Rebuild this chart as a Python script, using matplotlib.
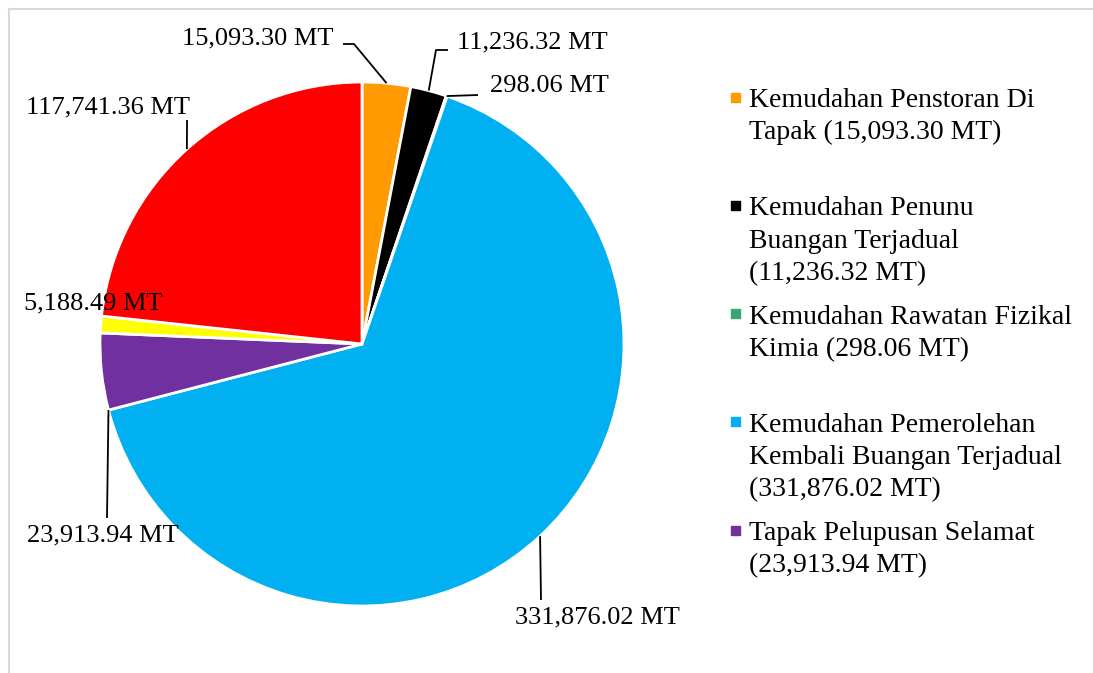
import matplotlib
matplotlib.use("Agg")  # no display

import numpy as np
import matplotlib.pyplot as plt
from matplotlib.lines import Line2D
from matplotlib.patches import Rectangle

# -----------------------------
# Data (tonnes, MT)
# -----------------------------
categories = [
    "Kemudahan Penstoran Di Tapak",
    "Kemudahan Penunu Buangan Terjadual",
    "Kemudahan Rawatan Fizikal Kimia",
    "Kemudahan Pemerolehan Kembali Buangan Terjadual",
    "Tapak Pelupusan Selamat",
    "Lain-lain",
    "Eksport",
]
values = [15093.30, 11236.32, 298.06, 331876.02, 23913.94, 5188.49, 117741.36]
colors = ["#FF9A00", "#000000", "#3AA86E", "#00B0F0", "#7030A0", "#FFFF00", "#FF0000"]

legend_labels = [
    "Kemudahan Penstoran Di\nTapak (15,093.30 MT)",
    "Kemudahan Penunu\nBuangan Terjadual\n(11,236.32 MT)",
    "Kemudahan Rawatan Fizikal\nKimia (298.06 MT)",
    "Kemudahan Pemerolehan\nKembali Buangan Terjadual\n(331,876.02 MT)",
    "Tapak Pelupusan Selamat\n(23,913.94 MT)",
]

FONT = "Liberation Serif"
W, H = 1093, 673

fig = plt.figure(figsize=(W / 100, H / 100), dpi=100)

# pie box: centre (362, 344) px, radius 262 px
CX, CY, R = 362, 344, 262
ax = fig.add_axes([(CX - R) / W, (H - CY - R) / H, 2 * R / W, 2 * R / H])
ax.axis("off")

wedges, _ = ax.pie(values, colors=colors, startangle=90, counterclock=False,
                   radius=1.0, wedgeprops=dict(edgecolor="white", linewidth=2.0))
ax.set_xlim(-1, 1)
ax.set_ylim(-1, 1)


def px(x, y):
    """pixel position -> axes data coords"""
    return (x - CX) / R, (CY - y) / R


def on_edge(theta):
    t = np.deg2rad(theta)
    return np.cos(t), np.sin(t)


def mid(w):
    return (w.theta1 + w.theta2) / 2


# -----------------------------
# Data labels with leader lines
# -----------------------------
# (text x, text y, ha, anchor angle, elbow points)
label_setup = [
    (258, 38, "center", mid(wedges[0]), [(354, 44), (343, 44)]),
    (457, 42, "left", mid(wedges[1]), [(436, 50), (448, 50)]),
    (490, 86, "left", mid(wedges[2]), [(478, 95)]),
    (597, 617, "center", mid(wedges[3]), [(541, 600)]),
    (103, 535, "center", wedges[4].theta2, [(107, 518)]),
    (24, 303, "left", None, []),
    (108, 107, "center", mid(wedges[6]), [(187, 120)]),
]

for v, (tx, ty, ha, ang, pts) in zip(values, label_setup):
    x, y = px(tx, ty)
    ax.text(x, y, f"{v:,.2f} MT", ha=ha, va="center", fontsize=19,
            family=FONT, color="black", clip_on=False)
    if ang is not None:
        line = [on_edge(ang)] + [px(*p) for p in pts]
        lx, ly = zip(*line)
        ax.plot(lx, ly, color="black", linewidth=1.3, clip_on=False,
                solid_capstyle="butt")

# -----------------------------
# Legend (first five series)
# -----------------------------
for i, lab in enumerate(legend_labels):
    y0 = 97 + 108.3 * i
    fig.patches.append(Rectangle((731 / W, 1 - (y0 + 4.5) / H), 9 / W, 9 / H,
                                 transform=fig.transFigure, color=colors[i]))
    fig.text(749 / W, 1 - (y0 - 9) / H, lab, ha="left", va="top",
             fontsize=20, family=FONT, linespacing=1.38, color="black")

# chart area frame
frame = dict(color="#D9D9D9", linewidth=1.5, transform=fig.transFigure)
fig.lines.append(Line2D([9 / W, 1.01], [1 - 9 / H, 1 - 9 / H], **frame))
fig.lines.append(Line2D([9 / W, 9 / W], [1 - 9 / H, -0.01], **frame))

fig.savefig("out.png", dpi=100)
plt.close(fig)
